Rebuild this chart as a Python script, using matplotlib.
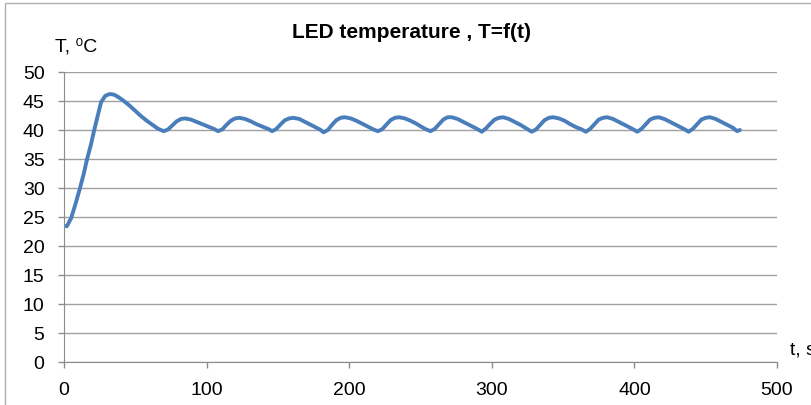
import numpy as np
import matplotlib.pyplot as plt
from matplotlib.patches import Rectangle

# warm-up from ambient, overshoot, then on/off regulation around 40-42 C
t = [0, 2, 5, 8, 11, 14, 16, 19, 21, 24, 26, 29, 32, 35, 38, 42, 46, 50, 54, 58, 62, 66,
     70, 73, 76, 79, 82, 85, 89, 93, 97, 101, 105,
     108, 111, 114, 117, 120, 123, 127, 131, 135, 139, 143,
     146, 149, 152, 155, 158, 161, 165, 169, 173, 177, 180,
     182, 185, 188, 191, 194, 197, 201, 205, 209, 213, 217,
     220, 223, 226, 229, 232, 235, 239, 243, 247, 251, 254,
     257, 260, 263, 266, 269, 272, 276, 280, 284, 288, 291,
     293, 296, 299, 302, 305, 308, 312, 316, 320, 324, 326,
     328, 331, 334, 337, 340, 343, 347, 351, 355, 359, 363,
     366, 369, 372, 375, 378, 381, 385, 389, 393, 397, 400,
     402, 405, 408, 411, 414, 417, 421, 425, 429, 433, 436,
     438, 441, 444, 447, 450, 453, 457, 461, 465, 469, 472, 474]
temp = [23.5, 23.4, 24.8, 27.2, 29.8, 32.6, 34.8, 37.6, 39.8, 42.8, 44.8, 45.9, 46.2, 46.1,
        45.7, 45.0, 44.2, 43.3, 42.4, 41.6, 40.9, 40.2,
        39.8, 40.1, 40.8, 41.5, 41.9, 42.0, 41.8, 41.4, 41.0, 40.6, 40.2,
        39.8, 40.1, 40.9, 41.6, 42.0, 42.1, 41.9, 41.5, 41.0, 40.6, 40.2,
        39.8, 40.2, 41.0, 41.7, 42.0, 42.1, 41.9, 41.4, 40.9, 40.4, 40.0,
        39.6, 40.0, 40.9, 41.7, 42.1, 42.2, 42.0, 41.6, 41.1, 40.6, 40.1,
        39.8, 40.1, 40.9, 41.7, 42.1, 42.2, 42.0, 41.6, 41.1, 40.5, 40.1,
        39.8, 40.2, 41.0, 41.8, 42.2, 42.2, 41.9, 41.4, 40.9, 40.4, 40.0,
        39.7, 40.3, 41.1, 41.8, 42.1, 42.2, 41.9, 41.4, 40.9, 40.3, 40.0,
        39.7, 40.1, 40.9, 41.7, 42.1, 42.2, 42.0, 41.6, 41.0, 40.5, 40.1,
        39.7, 40.2, 41.0, 41.8, 42.1, 42.2, 41.9, 41.4, 40.9, 40.4, 40.0,
        39.7, 40.2, 41.0, 41.8, 42.1, 42.2, 41.9, 41.4, 40.9, 40.4, 40.0,
        39.7, 40.2, 41.0, 41.8, 42.1, 42.2, 41.9, 41.4, 40.9, 40.4, 39.8, 40.0]

xticks = [0, 100, 200, 300, 400, 500]
yticks = list(range(0, 51, 5))

plt.rcParams['font.family'] = ['Liberation Sans Narrow', 'Liberation Sans', 'DejaVu Sans']
grey = '#a0a0a0'

fig = plt.figure(figsize=(8.12, 4.06), dpi=100)
ax = fig.add_axes([64 / 812, 1 - 363 / 406, 713 / 812, 290 / 406])

ax.plot(t, temp, color='#4a7ebb', linewidth=2.8, solid_joinstyle='round',
        solid_capstyle='round')

ax.set_xlim(0, 500)
ax.set_ylim(0, 50)
ax.set_xticks(xticks)
ax.set_yticks(yticks)
ax.yaxis.grid(True, color=grey, linewidth=1)
ax.set_axisbelow(True)
for s in ['top', 'right']:
    ax.spines[s].set_visible(False)
for s in ['left', 'bottom']:
    ax.spines[s].set_color('#8c8c8c')
ax.tick_params(axis='both', direction='out', length=4, width=1, color='#8c8c8c',
               labelsize=14)
ax.tick_params(axis='x', pad=10)
ax.tick_params(axis='y', pad=10)

fig.text(412 / 812, 1 - 33 / 406, 'LED temperature , T=f(t)', ha='center', va='center',
         fontsize=15, fontweight='bold')
fig.text(55 / 812, 1 - 47 / 406, 'T, \u2070C', ha='left', va='center', fontsize=14)
fig.text(790 / 812, 1 - 350 / 406, 't, s', ha='left', va='center', fontsize=14)

# chart frame (only top and left edges fall inside the picture)
fig.patches.append(Rectangle((5 / 812, -0.1), 1.2, 1 - 4 / 406 + 0.1,
                             transform=fig.transFigure, fill=False,
                             edgecolor='#b0b0b0', linewidth=1))

fig.savefig('out.png', dpi=100)
